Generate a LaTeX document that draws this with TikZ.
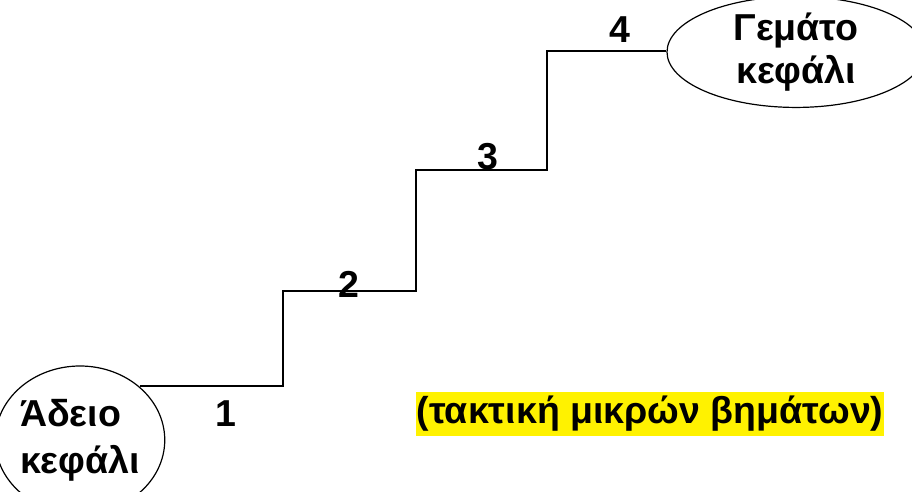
\documentclass[tikz,border=0pt]{standalone}
\usepackage{fontspec}
\setmainfont{Liberation Sans}
\usetikzlibrary{shapes.geometric}

\begin{document}
\begin{tikzpicture}[x=1pt,y=-1pt,
		lbl/.style={font=\fontsize{37.5}{44}\selectfont\bfseries, inner sep=0pt},
		head/.style={ellipse, draw, line width=1.2pt, inner sep=0pt, font=\fontsize{37.5}{45}\selectfont\bfseries}]
		\useasboundingbox (0,0) rectangle (912,492);
		%\draw [help lines] (0,0) grid (912,492);

		% the two heads
		\node [head, align=left, minimum width=156pt, minimum height=148pt] (empty) at (80,440) {Άδειο\\[2pt]κεφάλι};
		\node [head, align=center, minimum width=258pt, minimum height=90pt] (full) at (796,52) {Γεμάτο\\[-2pt]κεφάλι};

		% the stairs
		\coordinate (s1) at (283,386);
		\coordinate (s2) at (283,291);
		\coordinate (s3) at (416,291);
		\coordinate (s4) at (416,170);
		\coordinate (s5) at (547,170);
		\coordinate (s6) at (547,51);
		\draw [line width=1.3pt] (empty.north east |- s1) -- (s1) -- (s2) -- (s3) -- (s4) -- (s5) -- (s6) -- (full.west |- s6);

		\node [lbl] (n1) at (226,414) {1};
		\node [lbl] (n2) at (349,284) {2};
		\node [lbl] (n3) at (488,157) {3};
		\node [lbl] (n4) at (620,30) {4};

		\node [lbl, fill=yellow, inner xsep=1pt, inner ysep=4pt] (note) at (650,414) {(τακτική μικρών βημάτων)};
	\end{tikzpicture}
\end{document}
